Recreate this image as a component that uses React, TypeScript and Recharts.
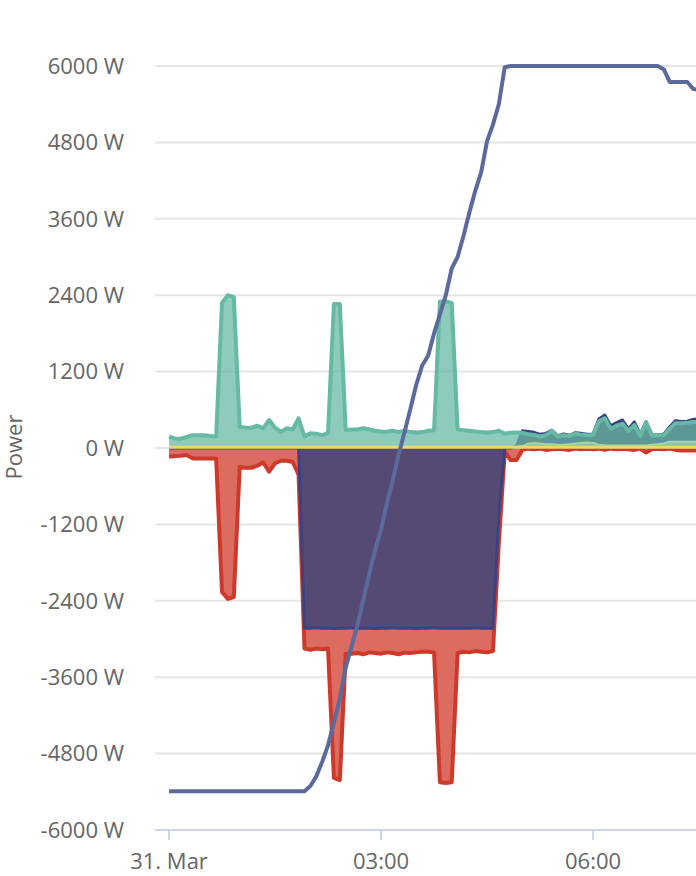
import React from 'react';
import { ComposedChart, Area, Line, XAxis, YAxis, CartesianGrid } from 'recharts';

// minutes since midnight, 5 min steps
const minutes = [
  0, 5, 10, 15, 20, 25, 30, 35, 40, 45,
  50, 55, 60, 65, 70, 75, 80, 85, 90, 95,
  100, 105, 110, 115, 120, 125, 130, 135, 140, 145,
  150, 155, 160, 165, 170, 175, 180, 185, 190, 195,
  200, 205, 210, 215, 220, 225, 230, 235, 240, 245,
  250, 255, 260, 265, 270, 275, 280, 285, 290, 295,
  300, 305, 310, 315, 320, 325, 330, 335, 340, 345,
  350, 355, 360, 365, 370, 375, 380, 385, 390, 395,
  400, 405, 410, 415, 420, 425, 430, 435, 440, 445,
  450,
];

const consumption = [
  178, 150, 145, 175, 200, 200, 200, 190, 185, 2280,
  2400, 2370, 335, 320, 320, 350, 310, 440, 320, 256,
  310, 290, 466, 178, 230, 225, 200, 240, 2260, 2260,
  280, 290, 290, 310, 290, 270, 260, 256, 270, 250,
  270, 250, 245, 250, 270, 280, 2300, 2300, 2280, 290,
  280, 270, 260, 250, 245, 250, 270, 226, 240, 245,
  240, 215, 204, 180, 200, 270, 178, 200, 190, 225,
  210, 200, 205, 420, 466, 300, 350, 380, 270, 360,
  190, 400, 200, 200, 200, 300, 390, 390, 395, 410,
  410,
];

const grid = [
  -137, -125, -120, -110, -163, -165, -165, -165, -165, -2260,
  -2370, -2340, -300, -310, -310, -278, -225, -372, -240, -200,
  -200, -220, -420, -3150, -3170, -3150, -3160, -3150, -5180, -5215,
  -3230, -3230, -3220, -3240, -3210, -3220, -3230, -3210, -3220, -3240,
  -3215, -3220, -3210, -3200, -3200, -3210, -5250, -5260, -5250, -3220,
  -3200, -3210, -3190, -3200, -3210, -3190, -1500, -60, -190, -190,
  -30, -10, -20, -10, -30, -20, -10, -20, -30, -10,
  -20, -10, -20, -10, -30, -10, -20, -10, -20, -30,
  -10, -70, -20, -10, -20, -10, -30, -40, -40, -40,
  -40,
];

const battery = [
  0, 0, 0, 0, 0, 0, 0, 0, 0, 0,
  0, 0, 0, 0, 0, 0, 0, 0, 0, 0,
  0, 0, 0, -2830, -2830, -2825, -2830, -2830, -2835, -2830,
  -2830, -2825, -2830, -2830, -2830, -2835, -2830, -2830, -2825, -2830,
  -2830, -2830, -2835, -2830, -2830, -2825, -2830, -2830, -2830, -2830,
  -2830, -2830, -2825, -2830, -2830, -2830, -1070, 0, 0, 30,
  270, 260, 246, 215, 230, 280, 190, 220, 200, 240,
  230, 215, 220, 460, 518, 350, 400, 440, 300, 410,
  215, 413, 210, 205, 215, 330, 430, 415, 420, 450,
  450,
];

const solar = [
  20, 20, 20, 20, 20, 20, 20, 20, 20, 20,
  20, 20, 20, 20, 20, 20, 20, 20, 20, 20,
  20, 20, 20, 20, 20, 20, 20, 20, 20, 20,
  20, 20, 20, 20, 20, 20, 20, 20, 20, 20,
  20, 20, 20, 20, 20, 20, 20, 20, 20, 20,
  20, 20, 20, 20, 20, 20, 20, 20, 20, 20,
  30, 70, 80, 70, 60, 60, 50, 50, 60, 70,
  80, 85, 80, 50, 40, 40, 40, 40, 40, 40,
  40, 40, 50, 60, 70, 100, 100, 100, 100, 100,
  100,
];

const other = [
  10, 10, 10, 10, 10, 10, 10, 10, 10, 10,
  10, 10, 10, 10, 10, 10, 10, 10, 10, 10,
  10, 10, 10, 10, 10, 10, 10, 10, 10, 10,
  10, 10, 10, 10, 10, 10, 10, 10, 10, 10,
  10, 10, 10, 10, 10, 10, 10, 10, 10, 10,
  10, 10, 10, 10, 10, 10, 10, 10, 10, 10,
  10, 10, 10, 10, 10, 10, 10, 10, 10, 10,
  10, 10, 10, 10, 10, 10, 10, 10, 10, 10,
  10, 10, 10, 10, 10, 10, 10, 10, 10, 10,
  10,
];

const setpoint = [
  -5390, -5390, -5390, -5390, -5390, -5390, -5390, -5390, -5390, -5390,
  -5390, -5390, -5390, -5390, -5390, -5390, -5390, -5390, -5390, -5390,
  -5390, -5390, -5390, -5390, -5310, -5160, -4930, -4670, -4310, -3930,
  -3450, -3120, -2780, -2380, -1980, -1600, -1280, -870, -500, -100,
  250, 620, 1000, 1300, 1450, 1800, 2100, 2400, 2820, 3000,
  3330, 3700, 4040, 4330, 4820, 5080, 5400, 5980, 6000, 6000,
  6000, 6000, 6000, 6000, 6000, 6000, 6000, 6000, 6000, 6000,
  6000, 6000, 6000, 6000, 6000, 6000, 6000, 6000, 6000, 6000,
  6000, 6000, 6000, 6000, 5950, 5750, 5750, 5750, 5750, 5640,
  5620,
];

const yTicks = [-6000, -4800, -3600, -2400, -1200, 0, 1200, 2400, 3600, 4800, 6000];
const xTicks = [0, 180, 360];
const xTickLabels = ['31. Mar', '03:00', '06:00'];

const data = minutes.map((t, i) => ({
  t,
  consumption: consumption[i],
  grid: grid[i],
  battery: battery[i],
  solar: solar[i],
  other: other[i],
  setpoint: setpoint[i],
}));

const tickStyle = { fill: '#666666', fontSize: 22, fontFamily: 'Open Sans' };

const PowerLabel = () => (
  <text
    x={13}
    y={447}
    transform="rotate(-90 13 447)"
    textAnchor="middle"
    dominantBaseline="central"
    fill="#666666"
    fontSize={22}
    fontFamily="Open Sans"
  >
    Power
  </text>
);

export default function App() {
  return (
    <div style={{ position: 'absolute', left: 0, top: 0, width: 696, height: 876, overflow: 'hidden', background: '#ffffff' }}>
      <ComposedChart width={696} height={876} data={data} margin={{ top: 66, right: 0, bottom: 0, left: 0 }}>
        <CartesianGrid vertical={false} stroke="#e6e6e6" strokeWidth={2} />
        <XAxis
          dataKey="t"
          type="number"
          domain={[-11.9, 447.4]}
          allowDataOverflow
          ticks={xTicks}
          tickFormatter={(v: number) => xTickLabels[xTicks.indexOf(v)]}
          height={46}
          tickSize={10}
          tickMargin={13}
          stroke="#ccd6eb"
          axisLine={{ stroke: '#ccd6eb', strokeWidth: 2 }}
          tickLine={{ stroke: '#ccd6eb', strokeWidth: 2 }}
          tick={tickStyle}
        />
        <YAxis
          type="number"
          domain={[-6000, 6000]}
          ticks={yTicks}
          width={155}
          axisLine={false}
          tickLine={false}
          tickSize={0}
          tickMargin={31}
          tick={tickStyle}
          tickFormatter={(v: number) => `${v} W`}
          label={PowerLabel}
        />
        <Area
          dataKey="grid"
          type="linear"
          baseValue={0}
          fill="#db6c5f"
          fillOpacity={1}
          stroke="#cd3a2b"
          strokeWidth={4}
          strokeLinejoin="round"
          dot={false}
          activeDot={false}
          isAnimationActive={false}
        />
        <Area
          dataKey="battery"
          type="linear"
          baseValue={0}
          fill="#554a74"
          fillOpacity={1}
          stroke="#3a4282"
          strokeWidth={3}
          strokeLinejoin="round"
          dot={false}
          activeDot={false}
          isAnimationActive={false}
        />
        <Area
          dataKey="consumption"
          type="linear"
          baseValue={0}
          fill="#63b7a2"
          fillOpacity={0.72}
          stroke="#66b9a4"
          strokeWidth={4}
          strokeLinejoin="round"
          dot={false}
          activeDot={false}
          isAnimationActive={false}
        />
        <Area
          dataKey="solar"
          type="linear"
          baseValue={0}
          fill="#b3dcae"
          fillOpacity={0.6}
          stroke="#a6d6a0"
          strokeWidth={2}
          strokeLinejoin="round"
          dot={false}
          activeDot={false}
          isAnimationActive={false}
        />
        <Line
          dataKey="other"
          type="linear"
          stroke="#f2d46c"
          strokeWidth={3}
          dot={false}
          activeDot={false}
          isAnimationActive={false}
        />
        <Line
          dataKey="setpoint"
          type="linear"
          stroke="#5a6a9d"
          strokeWidth={4}
          strokeLinejoin="round"
          dot={false}
          activeDot={false}
          isAnimationActive={false}
        />
      </ComposedChart>
    </div>
  );
}
